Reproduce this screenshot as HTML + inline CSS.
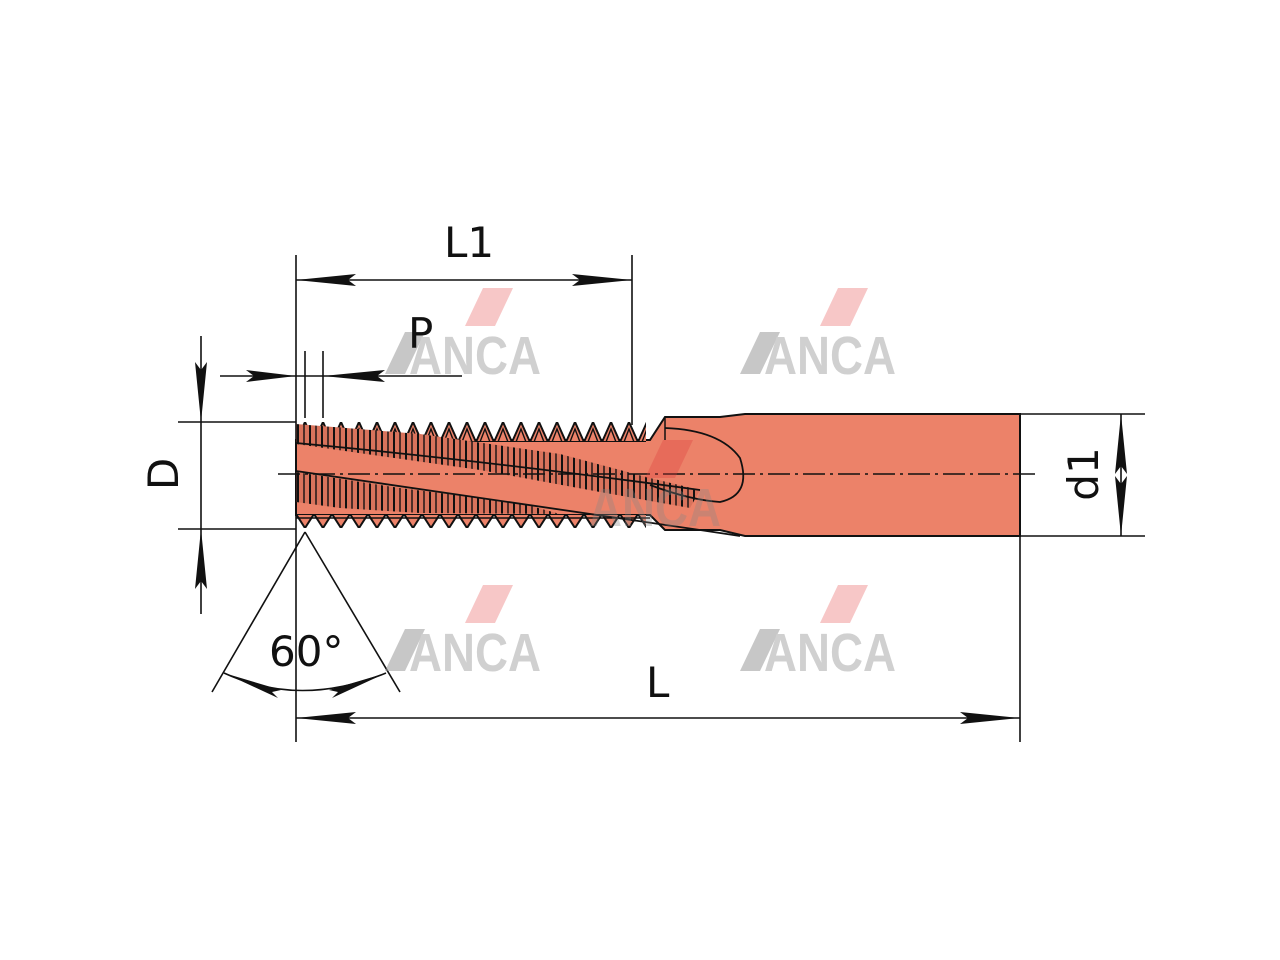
<!DOCTYPE html>
<html><head><style>html,body{margin:0;padding:0;background:#fff;}svg{display:block}</style></head>
<body>
<svg width="1280" height="960" viewBox="0 0 1280 960" xmlns="http://www.w3.org/2000/svg">
<defs>
<pattern id="tt" patternUnits="userSpaceOnUse" x="296" y="422" width="18" height="20">
<path d="M0 20 L9 0 L18 20 Z" fill="#ec8269" stroke="#111" stroke-width="2"/>
<path d="M4 20 L9 7 L14 20" fill="none" stroke="#111" stroke-width="1.4"/>
</pattern>
<pattern id="bt" patternUnits="userSpaceOnUse" x="296" y="514" width="18" height="14">
<path d="M0 0 L9 14 L18 0 Z" fill="#ec8269" stroke="#111" stroke-width="2"/>
</pattern>
<pattern id="vl" patternUnits="userSpaceOnUse" x="296" y="0" width="12" height="10">
<rect width="12" height="10" fill="#d9735c"/>
<line x1="2" y1="0" x2="2" y2="10" stroke="#111" stroke-width="2"/>
<line x1="8" y1="0" x2="8" y2="10" stroke="#111" stroke-width="1.4"/>
</pattern>
</defs>

<path d="M296 440 L650 440 L665 417 L720 417 L745 414 L1020 414 L1020 536 L745 536 L720 530 L665 530 L650 515 L296 515 Z" fill="#ec8269" stroke="#111" stroke-width="2"/>
<rect x="296" y="422" width="350" height="20" fill="url(#tt)"/>
<rect x="296" y="514" width="350" height="14" fill="url(#bt)"/>
<path d="M296 424 L420 434 L560 454 L650 478 L700 490 L690 508 L600 492 L480 470 L380 456 L296 444 Z" fill="url(#vl)"/>
<path d="M296 472 L400 488 L520 503 L560 514 L420 513 L340 508 L296 502 Z" fill="url(#vl)"/>
<path d="M296 443 Q480 460 700 490" fill="none" stroke="#111" stroke-width="1.8"/>
<path d="M296 471 Q500 500 700 530 L740 536" fill="none" stroke="#111" stroke-width="1.8"/>
<path d="M296 518 L650 518" fill="none" stroke="#111" stroke-width="1.5"/>
<path d="M665 428 Q720 430 740 458 Q752 495 720 502 Q690 500 650 485" fill="none" stroke="#111" stroke-width="1.8"/>
<line x1="665" y1="417" x2="665" y2="440" stroke="#111" stroke-width="1.5"/>
<line x1="1020" y1="414" x2="1020" y2="536" stroke="#111" stroke-width="2"/>

<line x1="278" y1="474" x2="1040" y2="474" stroke="#111" stroke-width="1.5" stroke-dasharray="22,5,3,5"/>

<g stroke="#111" stroke-width="1.6" fill="none">
<line x1="296" y1="255" x2="296" y2="742"/>
<line x1="632" y1="255" x2="632" y2="425"/>
<line x1="296" y1="280" x2="632" y2="280"/>
<line x1="1020" y1="536" x2="1020" y2="742"/>
<line x1="296" y1="718" x2="1020" y2="718"/>
<line x1="201" y1="336" x2="201" y2="614"/>
<line x1="178" y1="422" x2="296" y2="422"/>
<line x1="178" y1="529" x2="296" y2="529"/>
<line x1="1020" y1="414" x2="1145" y2="414"/>
<line x1="1020" y1="536" x2="1145" y2="536"/>
<line x1="1121" y1="414" x2="1121" y2="536"/>
<line x1="220" y1="376" x2="462" y2="376"/>
<line x1="305" y1="351" x2="305" y2="418"/>
<line x1="323" y1="351" x2="323" y2="418"/>
<line x1="305" y1="532" x2="212" y2="692"/>
<line x1="305" y1="532" x2="400" y2="692"/>
<path d="M224 673 Q300 708 386 673"/>
</g>
<g fill="#111">
<path d="M296 280 L356 274 L348 280 L356 286 Z"/>
<path d="M632 280 L572 274 L580 280 L572 286 Z"/>
<path d="M296 718 L356 712 L348 718 L356 724 Z"/>
<path d="M1020 718 L960 712 L968 718 L960 724 Z"/>
<path d="M201 422 L195 362 L201 370 L207 362 Z"/>
<path d="M201 529 L195 589 L201 581 L207 589 Z"/>
<path d="M1121 414 L1115 474 L1121 466 L1127 474 Z"/>
<path d="M1121 536 L1115 476 L1121 484 L1127 476 Z"/>
<path d="M296 376 L246 370 L254 376 L246 382 Z"/>
<path d="M323 376 L385 370 L377 376 L385 382 Z"/>
<path d="M224 673 L281 690 L272 692 L278 698 Z"/>
<path d="M386 673 L329 690 L338 692 L332 698 Z"/>
</g>

<g opacity="0.55">
<g transform="translate(385,288)">
<path d="M98 0 L128 0 L110 38 L80 38 Z" fill="#f09a9a"/>
<path d="M0 86 L20 44 L40 44 L20 86 Z" fill="#999"/>
<text x="24" y="86" textLength="132" lengthAdjust="spacingAndGlyphs" font-family="Liberation Sans,sans-serif" font-weight="bold" font-size="54" fill="#aaa">ANCA</text>
</g>
<g transform="translate(740,288)">
<path d="M98 0 L128 0 L110 38 L80 38 Z" fill="#f09a9a"/>
<path d="M0 86 L20 44 L40 44 L20 86 Z" fill="#999"/>
<text x="24" y="86" textLength="132" lengthAdjust="spacingAndGlyphs" font-family="Liberation Sans,sans-serif" font-weight="bold" font-size="54" fill="#aaa">ANCA</text>
</g>
<g transform="translate(385,585)">
<path d="M98 0 L128 0 L110 38 L80 38 Z" fill="#f09a9a"/>
<path d="M0 86 L20 44 L40 44 L20 86 Z" fill="#999"/>
<text x="24" y="86" textLength="132" lengthAdjust="spacingAndGlyphs" font-family="Liberation Sans,sans-serif" font-weight="bold" font-size="54" fill="#aaa">ANCA</text>
</g>
<g transform="translate(740,585)">
<path d="M98 0 L128 0 L110 38 L80 38 Z" fill="#f09a9a"/>
<path d="M0 86 L20 44 L40 44 L20 86 Z" fill="#999"/>
<text x="24" y="86" textLength="132" lengthAdjust="spacingAndGlyphs" font-family="Liberation Sans,sans-serif" font-weight="bold" font-size="54" fill="#aaa">ANCA</text>
</g>
<g transform="translate(565,440)" opacity="0.6">
<path d="M98 0 L128 0 L110 38 L80 38 Z" fill="#e04040"/>
<text x="24" y="86" textLength="132" lengthAdjust="spacingAndGlyphs" font-family="Liberation Sans,sans-serif" font-weight="bold" font-size="54" fill="#888">ANCA</text>
</g>
</g>

<g font-family="DejaVu Sans,Liberation Sans,sans-serif" fill="#111" font-size="42">
<text x="444" y="257">L1</text>
<text x="408" y="348">P</text>
<text x="646" y="697">L</text>
<text x="269" y="666">60°</text>
<text transform="translate(178,474) rotate(-90)" text-anchor="middle">D</text>
<text transform="translate(1098,474) rotate(-90)" text-anchor="middle">d1</text>
</g>
</svg>
</body></html>
